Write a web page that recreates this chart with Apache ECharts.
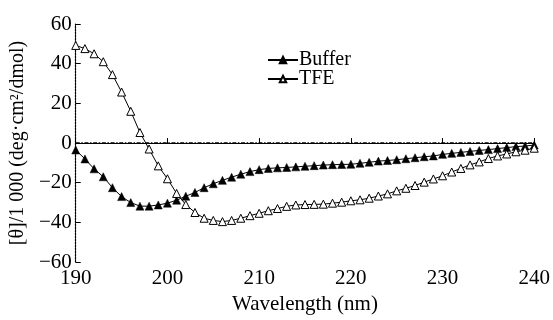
<!DOCTYPE html>
<html><head><meta charset="utf-8">
<script src="https://cdn.jsdelivr.net/npm/echarts@6/dist/echarts.min.js"></script>
<style>html,body{margin:0;padding:0;background:#fff}#c{width:553px;height:320px}</style>
</head><body><div id="c"></div>
<script>
const wavelengths = [190,191,192,193,194,195,196,197,198,199,200,201,202,203,204,205,206,207,208,209,210,211,212,213,214,215,216,217,218,219,220,221,222,223,224,225,226,227,228,229,230,231,232,233,234,235,236,237,238,239,240];
const buffer = [-3.5,-8,-13,-17,-22.5,-27,-30,-31.8,-31.8,-31.2,-30.3,-28.8,-26.8,-24.9,-22.5,-20.5,-18.8,-17.2,-15.7,-14.4,-13.4,-12.8,-12.5,-12.3,-12,-11.7,-11.4,-11.1,-10.9,-10.8,-10.7,-10.2,-9.7,-9.1,-8.8,-8.4,-7.9,-7.4,-6.9,-6.5,-5.7,-5.2,-4.7,-4.2,-3.7,-3.3,-2.8,-2.3,-1.8,-1.5,-1];
const tfe = [49.2,47.6,45,41,34.5,25.7,16,5.3,-3,-11.5,-18,-25.4,-31,-35,-37.9,-39,-39.6,-39,-37.9,-36.6,-35.4,-34.1,-33,-31.9,-31.2,-31,-30.9,-30.8,-30.3,-29.8,-29.1,-28.6,-27.8,-26.7,-25.6,-24.1,-22.8,-21.4,-19.7,-18.1,-16.5,-14.6,-12.8,-11,-9.5,-7.8,-6.5,-5.5,-4.4,-3.6,-2.6];
const seriesNames = ['Buffer','TFE'];
const zeroLine = [[190,0],[240,0]];
const xTicks = [190,200,210,220,230,240];
const yTicks = [-60,-40,-20,0,20,40,60];

const font = 'Liberation Serif';
const chart = echarts.init(document.getElementById('c'));
const pair = arr => wavelengths.map((w,i)=>[w,arr[i]]);
chart.setOption({
  animation:false,
  backgroundColor:'#fff',
  textStyle:{fontFamily:font},
  grid:{left:73,right:18,top:24,bottom:49},
  legend:{
    left:262,top:45,orient:'vertical',itemGap:-1,itemWidth:30,itemHeight:8,
    textStyle:{fontFamily:font,fontSize:20,color:'#000',padding:[0,0,0,-4]},
    data:seriesNames
  },
  xAxis:{
    type:'value',min:xTicks[0],max:xTicks[xTicks.length-1],interval:10,
    name:'Wavelength (nm)',nameLocation:'middle',nameGap:25,
    nameTextStyle:{fontFamily:font,fontSize:21,color:'#000'},
    axisLine:{lineStyle:{color:'#000',width:1.2}},
    axisTick:{inside:true,length:5,lineStyle:{color:'#000'}},
    axisLabel:{fontFamily:font,fontSize:21,color:'#000',margin:6},
    splitLine:{show:false}
  },
  yAxis:{
    type:'value',min:yTicks[0],max:yTicks[yTicks.length-1],interval:20,
    name:'[θ]/1 000 (deg·cm²/dmol)',nameLocation:'middle',nameGap:45,
    nameTextStyle:{fontFamily:font,fontSize:20,color:'#000'},
    axisLine:{lineStyle:{color:'#000',width:1.2,type:[2,1]}},
    axisTick:{inside:true,length:5,lineStyle:{color:'#000'}},
    axisLabel:{fontFamily:font,fontSize:21,color:'#000',margin:4,formatter:v=>String(v).replace('-','−')},
    splitLine:{show:false}
  },
  series:[
    {name:'zero',type:'line',data:zeroLine,symbol:'none',silent:true,z:1,
     lineStyle:{color:'#000',width:1.8,type:[4,1.6,1.5,1.6]}},
    {name:seriesNames[0],type:'line',data:pair(buffer),symbol:'triangle',symbolSize:8,z:3,
     lineStyle:{color:'#000',width:1},itemStyle:{color:'#000',borderColor:'#000',borderWidth:0.5}},
    {name:seriesNames[1],type:'line',data:pair(tfe),symbol:'triangle',symbolSize:8,z:3,
     lineStyle:{color:'#000',width:1},itemStyle:{color:'#fff',borderColor:'#000',borderWidth:1}}
  ]
});
</script></body></html>
